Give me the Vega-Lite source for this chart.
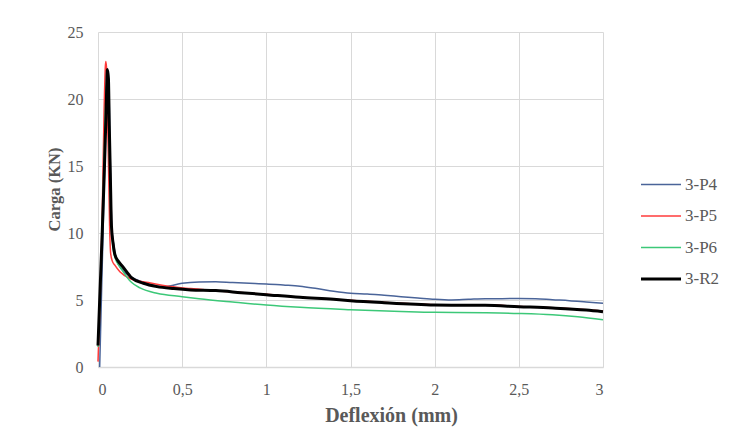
{
  "$schema": "https://vega.github.io/schema/vega-lite/v6.json",
  "width": 505,
  "height": 335,
  "autosize": {"type": "none"},
  "padding": {"left": 98, "top": 32, "right": 127, "bottom": 79},
  "background": "white",
  "config": {
    "view": {"stroke": null},
    "font": "Liberation Serif",
    "axis": {"gridColor": "#d9d9d9", "gridWidth": 1, "domain": false, "ticks": false, "labelColor": "#595959", "titleColor": "#595959", "labelFont": "Liberation Serif", "titleFont": "Liberation Serif", "titleFontWeight": "bold"}
  },
  "data": {"values": [
    {"serie": "3-P4", "x": 0.01, "y": 0},
    {"serie": "3-P4", "x": 0.03, "y": 10},
    {"serie": "3-P4", "x": 0.045, "y": 18},
    {"serie": "3-P4", "x": 0.055, "y": 21.8},
    {"serie": "3-P4", "x": 0.062, "y": 22},
    {"serie": "3-P4", "x": 0.068, "y": 19},
    {"serie": "3-P4", "x": 0.075, "y": 14},
    {"serie": "3-P4", "x": 0.082, "y": 10.5},
    {"serie": "3-P4", "x": 0.095, "y": 9},
    {"serie": "3-P4", "x": 0.11, "y": 8},
    {"serie": "3-P4", "x": 0.14, "y": 7.3},
    {"serie": "3-P4", "x": 0.2, "y": 6.7},
    {"serie": "3-P4", "x": 0.3, "y": 6.2},
    {"serie": "3-P4", "x": 0.4, "y": 6.0},
    {"serie": "3-P4", "x": 0.5, "y": 6.25},
    {"serie": "3-P4", "x": 0.6, "y": 6.35},
    {"serie": "3-P4", "x": 0.7, "y": 6.37},
    {"serie": "3-P4", "x": 0.8, "y": 6.3},
    {"serie": "3-P4", "x": 0.9, "y": 6.25},
    {"serie": "3-P4", "x": 1.0, "y": 6.2},
    {"serie": "3-P4", "x": 1.1, "y": 6.12},
    {"serie": "3-P4", "x": 1.2, "y": 6.03},
    {"serie": "3-P4", "x": 1.3, "y": 5.85},
    {"serie": "3-P4", "x": 1.4, "y": 5.65},
    {"serie": "3-P4", "x": 1.5, "y": 5.5},
    {"serie": "3-P4", "x": 1.6, "y": 5.45},
    {"serie": "3-P4", "x": 1.7, "y": 5.35},
    {"serie": "3-P4", "x": 1.8, "y": 5.25},
    {"serie": "3-P4", "x": 1.9, "y": 5.15},
    {"serie": "3-P4", "x": 2.0, "y": 5.05},
    {"serie": "3-P4", "x": 2.1, "y": 5.0},
    {"serie": "3-P4", "x": 2.2, "y": 5.05},
    {"serie": "3-P4", "x": 2.3, "y": 5.1},
    {"serie": "3-P4", "x": 2.4, "y": 5.1},
    {"serie": "3-P4", "x": 2.5, "y": 5.12},
    {"serie": "3-P4", "x": 2.6, "y": 5.1},
    {"serie": "3-P4", "x": 2.7, "y": 5.02},
    {"serie": "3-P4", "x": 2.8, "y": 4.95},
    {"serie": "3-P4", "x": 2.9, "y": 4.85},
    {"serie": "3-P4", "x": 3.0, "y": 4.75},
    {"serie": "3-P5", "x": 0, "y": 0.4},
    {"serie": "3-P5", "x": 0.015, "y": 6},
    {"serie": "3-P5", "x": 0.026, "y": 12},
    {"serie": "3-P5", "x": 0.036, "y": 19},
    {"serie": "3-P5", "x": 0.044, "y": 22.5},
    {"serie": "3-P5", "x": 0.047, "y": 22.8},
    {"serie": "3-P5", "x": 0.052, "y": 22},
    {"serie": "3-P5", "x": 0.058, "y": 18},
    {"serie": "3-P5", "x": 0.064, "y": 14},
    {"serie": "3-P5", "x": 0.069, "y": 10.5},
    {"serie": "3-P5", "x": 0.075, "y": 8.5},
    {"serie": "3-P5", "x": 0.085, "y": 7.9},
    {"serie": "3-P5", "x": 0.1, "y": 7.6},
    {"serie": "3-P5", "x": 0.13, "y": 7.1},
    {"serie": "3-P5", "x": 0.19, "y": 6.6},
    {"serie": "3-P5", "x": 0.3, "y": 6.3},
    {"serie": "3-P5", "x": 0.43, "y": 6.0},
    {"serie": "3-P5", "x": 0.55, "y": 5.85},
    {"serie": "3-P5", "x": 0.7, "y": 5.7},
    {"serie": "3-P5", "x": 0.8, "y": 5.6},
    {"serie": "3-P5", "x": 1.0, "y": 5.42},
    {"serie": "3-P5", "x": 1.2, "y": 5.2},
    {"serie": "3-P5", "x": 1.4, "y": 5.05},
    {"serie": "3-P5", "x": 1.5, "y": 4.98},
    {"serie": "3-P5", "x": 1.6, "y": 4.9},
    {"serie": "3-P5", "x": 1.8, "y": 4.75},
    {"serie": "3-P5", "x": 2.0, "y": 4.65},
    {"serie": "3-P5", "x": 2.2, "y": 4.62},
    {"serie": "3-P5", "x": 2.3, "y": 4.65},
    {"serie": "3-P5", "x": 2.5, "y": 4.52},
    {"serie": "3-P5", "x": 2.7, "y": 4.42},
    {"serie": "3-P5", "x": 2.9, "y": 4.28},
    {"serie": "3-P5", "x": 3.0, "y": 4.18},
    {"serie": "3-P6", "x": 0, "y": 1.5},
    {"serie": "3-P6", "x": 0.02, "y": 8},
    {"serie": "3-P6", "x": 0.035, "y": 15},
    {"serie": "3-P6", "x": 0.048, "y": 20.5},
    {"serie": "3-P6", "x": 0.056, "y": 21.5},
    {"serie": "3-P6", "x": 0.062, "y": 20},
    {"serie": "3-P6", "x": 0.068, "y": 16},
    {"serie": "3-P6", "x": 0.075, "y": 12},
    {"serie": "3-P6", "x": 0.085, "y": 9.5},
    {"serie": "3-P6", "x": 0.1, "y": 8.2},
    {"serie": "3-P6", "x": 0.135, "y": 7.4},
    {"serie": "3-P6", "x": 0.2, "y": 6.3},
    {"serie": "3-P6", "x": 0.25, "y": 5.9},
    {"serie": "3-P6", "x": 0.35, "y": 5.5},
    {"serie": "3-P6", "x": 0.5, "y": 5.25},
    {"serie": "3-P6", "x": 0.6, "y": 5.1},
    {"serie": "3-P6", "x": 0.8, "y": 4.85},
    {"serie": "3-P6", "x": 1.0, "y": 4.62},
    {"serie": "3-P6", "x": 1.2, "y": 4.45},
    {"serie": "3-P6", "x": 1.5, "y": 4.28},
    {"serie": "3-P6", "x": 1.8, "y": 4.15},
    {"serie": "3-P6", "x": 2.0, "y": 4.08},
    {"serie": "3-P6", "x": 2.3, "y": 4.05},
    {"serie": "3-P6", "x": 2.5, "y": 4.0},
    {"serie": "3-P6", "x": 2.7, "y": 3.9},
    {"serie": "3-P6", "x": 2.85, "y": 3.75},
    {"serie": "3-P6", "x": 3.0, "y": 3.52},
    {"serie": "3-R2", "x": 0, "y": 1.6},
    {"serie": "3-R2", "x": 0.01, "y": 5},
    {"serie": "3-R2", "x": 0.025, "y": 10},
    {"serie": "3-R2", "x": 0.036, "y": 14},
    {"serie": "3-R2", "x": 0.048, "y": 19},
    {"serie": "3-R2", "x": 0.056, "y": 22.2},
    {"serie": "3-R2", "x": 0.062, "y": 21.5},
    {"serie": "3-R2", "x": 0.067, "y": 18},
    {"serie": "3-R2", "x": 0.073, "y": 14.5},
    {"serie": "3-R2", "x": 0.08, "y": 10.5},
    {"serie": "3-R2", "x": 0.09, "y": 9.2},
    {"serie": "3-R2", "x": 0.1, "y": 8.4},
    {"serie": "3-R2", "x": 0.12, "y": 7.9},
    {"serie": "3-R2", "x": 0.146, "y": 7.5},
    {"serie": "3-R2", "x": 0.2, "y": 6.65},
    {"serie": "3-R2", "x": 0.27, "y": 6.25},
    {"serie": "3-R2", "x": 0.35, "y": 6.0},
    {"serie": "3-R2", "x": 0.45, "y": 5.85},
    {"serie": "3-R2", "x": 0.55, "y": 5.75},
    {"serie": "3-R2", "x": 0.7, "y": 5.7},
    {"serie": "3-R2", "x": 0.85, "y": 5.55},
    {"serie": "3-R2", "x": 1.0, "y": 5.4},
    {"serie": "3-R2", "x": 1.2, "y": 5.2},
    {"serie": "3-R2", "x": 1.4, "y": 5.05},
    {"serie": "3-R2", "x": 1.5, "y": 4.95},
    {"serie": "3-R2", "x": 1.7, "y": 4.8},
    {"serie": "3-R2", "x": 2.0, "y": 4.63},
    {"serie": "3-R2", "x": 2.2, "y": 4.6},
    {"serie": "3-R2", "x": 2.3, "y": 4.6},
    {"serie": "3-R2", "x": 2.5, "y": 4.5},
    {"serie": "3-R2", "x": 2.7, "y": 4.4},
    {"serie": "3-R2", "x": 2.9, "y": 4.25},
    {"serie": "3-R2", "x": 3.0, "y": 4.13}
  ]},
  "mark": {"type": "line", "interpolate": "monotone"},
  "encoding": {
    "x": {"field": "x", "type": "quantitative", "scale": {"domain": [0, 3], "nice": false}, "axis": {"title": "Deflexión (mm)", "values": [0, 0.5, 1, 1.5, 2, 2.5, 3], "labelExpr": "replace(format(datum.value, '~g'), '.', ',')", "labelFont": "Liberation Serif", "titleFont": "Liberation Serif", "labelFontSize": 16, "labelPadding": 14, "titleFontSize": 20, "titlePadding": 8, "titleX": 293, "titleAnchor": "middle", "domain": true, "domainColor": "#d9d9d9", "domainWidth": 1.5}},
    "y": {"field": "y", "type": "quantitative", "scale": {"domain": [0, 25], "nice": false}, "axis": {"title": "Carga (KN)", "values": [0, 5, 10, 15, 20, 25], "labelFont": "Liberation Serif", "titleFont": "Liberation Serif", "labelFontSize": 16, "labelPadding": 15, "titleFontSize": 16.5, "titlePadding": 5, "titleY": 157, "titleAnchor": "middle"}},
    "color": {"field": "serie", "type": "nominal", "scale": {"domain": ["3-P4", "3-P5", "3-P6", "3-R2"], "range": ["#4a6499", "#ff3b3b", "#3cc878", "#000000"]}, "legend": {"title": null, "orient": "none", "legendX": 554.5, "legendY": 144, "symbolType": "stroke", "symbolSize": 1600, "labelFontSize": 17, "labelColor": "#595959", "labelFont": "Liberation Serif", "rowPadding": 13.5, "labelOffset": 15.5, "encode": {"symbols": {"update": {"strokeWidth": {"signal": "datum.value === '3-R2' ? 3 : 1.5"}}}}}},
    "strokeWidth": {"condition": {"test": "datum.serie === '3-R2'", "value": 3}, "value": 1.5},
    "order": {"field": "serie"}
  }
}
